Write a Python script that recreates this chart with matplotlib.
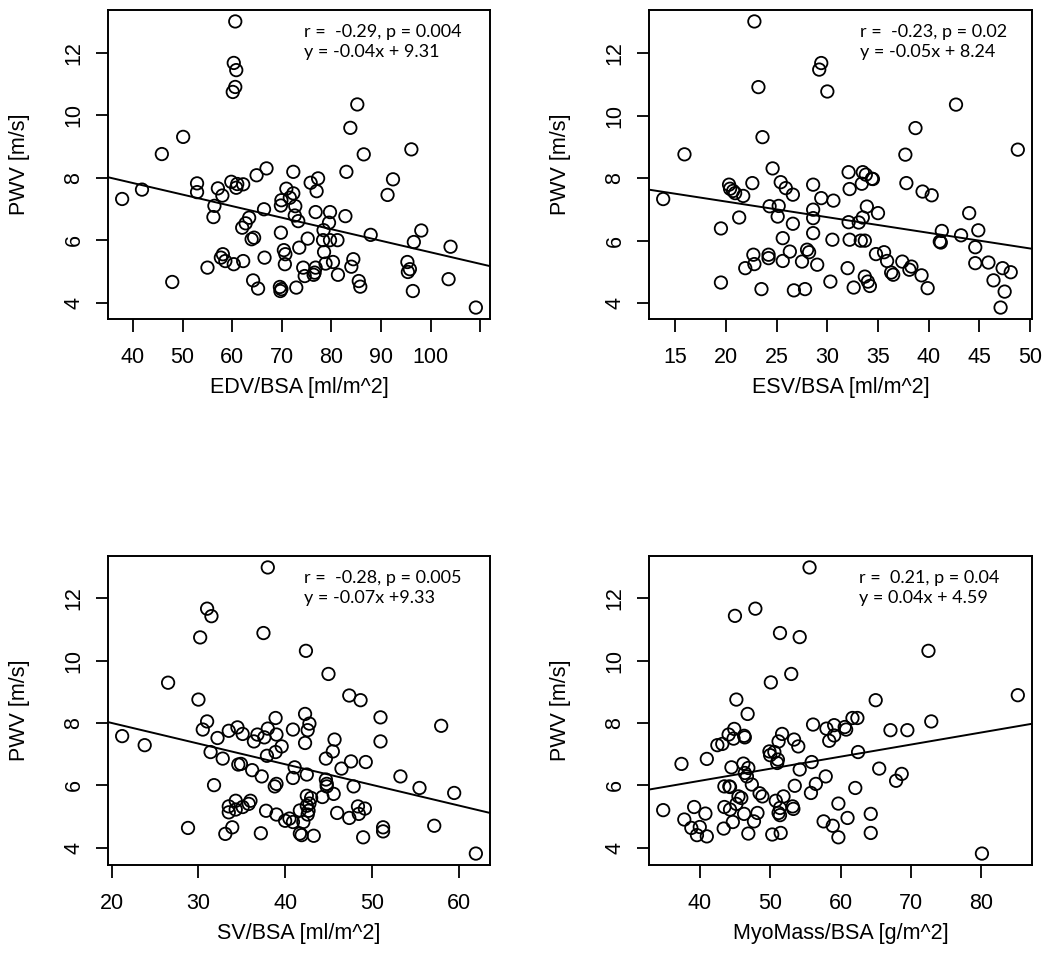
import matplotlib
matplotlib.use('Agg')
import matplotlib.pyplot as plt
import numpy as np

plt.rcParams['font.family'] = ['Liberation Sans', 'DejaVu Sans']

# PWV against four indexed LV measures
edv = [60.6, 60.3, 60.8, 60.6, 60.1, 50.1, 45.8, 37.8, 41.8, 52.9, 52.9, 57.1, 58.0, 56.4, 56.2, 59.8,
       58.1, 57.7, 58.6, 60.3, 47.9, 55.0, 61.0, 62.2, 60.8,
       66.9, 64.9, 72.3, 77.3, 75.8, 77.0, 83.0, 70.9, 72.3, 71.6, 69.9, 69.8, 72.7, 66.4, 72.6, 73.3,
       76.8, 79.7, 79.5, 82.8, 63.4, 62.7, 62.0, 78.4, 69.8, 64.4, 63.9, 75.2, 78.3, 79.7, 81.2, 73.5,
       70.4, 70.7, 78.5, 66.5, 62.2, 70.6, 74.3, 76.8, 80.3, 78.8, 84.4, 84.0, 76.6, 76.4, 74.6, 81.3,
       64.2, 65.2, 69.6, 69.9, 69.7, 72.9,
       85.2, 83.8, 86.5, 96.1, 92.4, 91.3, 87.9, 98.1, 96.6, 104.0, 95.3, 95.8, 95.4, 85.5, 85.8, 96.4,
       103.6, 109.1]
pwv_edv = [13.01, 11.68, 11.45, 10.91, 10.75, 9.31, 8.76, 7.32, 7.62, 7.82, 7.54, 7.66, 7.43, 7.10, 6.74,
           7.87, 5.55, 5.44, 5.33, 5.23, 4.66, 5.12, 7.80, 7.79, 7.68,
           8.30, 8.08, 8.19, 7.98, 7.84, 7.57, 8.19, 7.65, 7.50, 7.36, 7.28, 7.11, 7.09, 6.99, 6.79, 6.61,
           6.90, 6.90, 6.56, 6.77, 6.72, 6.54, 6.40, 6.32, 6.24, 6.08, 6.03, 6.05, 6.00, 6.00, 6.00, 5.76,
           5.68, 5.55, 5.62, 5.44, 5.33, 5.23, 5.12, 5.12, 5.30, 5.25, 5.39, 5.15, 4.96, 4.89, 4.85, 4.89,
           4.71, 4.45, 4.50, 4.43, 4.37, 4.48,
           10.35, 9.60, 8.75, 8.91, 7.95, 7.45, 6.17, 6.31, 5.94, 5.79, 5.30, 5.07, 4.98, 4.69, 4.51, 4.37,
           4.75, 3.84]

esv = [13.8, 15.9, 19.5, 19.5, 20.3, 20.4, 20.7, 20.9, 21.7, 21.3, 21.9,
       22.6, 22.7, 22.8, 23.5, 22.8, 23.2, 23.6, 24.6, 25.4, 25.9, 26.6, 24.3, 25.2, 25.1, 26.6, 25.6,
       24.2, 24.2, 25.6, 26.3, 27.5, 28.0, 28.2, 26.7, 27.8, 28.6, 28.6, 28.6, 28.6, 29.4, 30.6, 32.1,
       33.5, 33.8, 32.2, 33.4, 34.4, 34.5, 32.1, 33.1, 33.5, 33.9, 30.5, 32.2, 33.3, 33.7, 29.0, 32.0,
       33.7, 34.0, 34.2, 30.3, 32.6,
       29.4, 29.2, 30.0,
       42.7, 38.7, 37.7, 48.8, 37.8, 39.4, 40.3, 35.0, 44.0, 44.9, 43.2, 41.3, 41.1, 41.2, 44.6, 34.8,
       35.6, 35.9, 37.4, 36.3, 36.5, 38.1, 38.3, 39.3, 39.9, 44.6, 45.9, 47.3, 48.1, 46.4, 47.5, 47.1]
pwv_esv = [7.33, 8.76, 6.39, 4.66, 7.79, 7.66, 7.59, 7.52, 7.43, 6.74, 5.12,
           7.84, 5.55, 5.25, 4.45, 13.01, 10.91, 9.31, 8.31, 7.87, 7.68, 7.47, 7.10, 7.11, 6.77, 6.54, 6.08,
           5.55, 5.44, 5.35, 5.65, 5.33, 5.71, 5.63, 4.41, 4.45, 7.79, 6.99, 6.72, 6.24, 7.36, 7.28, 8.19,
           8.19, 8.11, 7.65, 7.82, 7.98, 7.97, 6.59, 6.58, 6.74, 7.09, 6.03, 6.03, 6.00, 6.00, 5.23, 5.12,
           4.85, 4.69, 4.55, 4.69, 4.50,
           11.68, 11.47, 10.77,
           10.35, 9.60, 8.75, 8.91, 7.84, 7.57, 7.45, 6.88, 6.88, 6.33, 6.17, 6.31, 5.97, 5.94, 5.79, 5.57,
           5.63, 5.35, 5.33, 4.98, 4.91, 5.07, 5.17, 4.89, 4.48, 5.28, 5.30, 5.12, 4.99, 4.73, 4.37, 3.86]

sv = [38.0, 31.0, 31.5, 30.2, 37.5, 26.5, 30.0, 21.2, 23.8, 31.0, 30.5, 32.2, 31.4, 32.8, 31.8, 28.8,
      33.5, 33.1, 33.9, 33.5, 34.3, 33.5, 34.3, 35.1, 35.8, 36.0,
      34.5, 35.1, 36.4, 36.8, 37.6, 38.0, 38.9, 39.0, 39.6, 38.9, 37.9, 34.6, 34.9, 36.2, 37.3, 38.8,
      39.0, 37.8, 39.0, 37.2, 40.0, 40.5, 40.9, 40.9, 41.1, 40.9,
      47.4, 42.3, 42.8, 42.6, 42.3, 45.7, 45.5, 44.7, 47.6, 46.5, 42.5, 44.7, 44.8, 44.8, 47.9, 42.5,
      43.0, 44.3, 45.6, 42.8, 42.5, 42.7, 41.7, 42.6, 42.1, 46.0, 47.4, 41.7, 41.9, 43.3,
      42.4, 45.0, 48.7, 51.0, 58.0, 51.0, 49.3, 53.3, 55.5, 59.5, 48.5, 48.4, 49.2, 51.3, 51.3, 49.0,
      57.2, 62.0]
pwv_sv = [12.98, 11.66, 11.42, 10.74, 10.88, 9.29, 8.75, 7.58, 7.29, 8.05, 7.79, 7.52, 7.07, 6.86, 6.01,
          4.64, 7.75, 4.45, 4.66, 5.33, 5.51, 5.14, 5.23, 5.31, 5.41, 5.51,
          7.86, 7.65, 7.41, 7.63, 7.54, 7.82, 8.16, 7.63, 7.25, 7.07, 6.95, 6.67, 6.69, 6.49, 6.29, 5.97,
          6.05, 5.19, 5.07, 4.47, 4.87, 4.94, 4.83, 7.79, 6.58, 6.24,
          8.88, 8.29, 7.98, 7.77, 7.36, 7.47, 7.09, 6.86, 6.77, 6.54, 6.35, 6.19, 6.05, 5.97, 5.97, 5.67,
          5.60, 5.63, 5.73, 5.42, 5.35, 5.19, 5.20, 5.07, 4.83, 5.12, 4.96, 4.46, 4.41, 4.39,
          10.31, 9.57, 8.73, 8.18, 7.91, 7.41, 6.75, 6.29, 5.92, 5.76, 5.09, 5.33, 5.26, 4.66, 4.53, 4.34,
          4.71, 3.82]

myo = [34.8, 37.4, 37.8, 39.2, 38.8, 40.0, 39.6, 41.0, 40.8, 41.0, 42.5, 43.2, 44.1, 44.9, 44.8, 46.3,
       46.4, 45.2, 46.8, 45.0, 43.5, 44.2, 44.3, 44.5, 46.2, 46.9, 46.4, 46.7, 43.5, 44.3, 45.2, 45.5,
       45.9, 46.3, 43.4, 44.7, 46.9,
       47.9, 47.4, 47.7, 48.2, 48.5, 48.9, 50.1, 49.9, 50.6, 50.0, 51.1, 51.0, 51.2, 51.7, 51.4, 54.2,
       53.0, 53.4, 54.0, 54.2, 53.5, 50.8, 51.9, 51.4, 51.2, 51.4, 53.2, 53.3, 50.3, 51.5, 55.6, 56.1,
       55.9, 55.8,
       58.0, 59.1, 60.6, 60.8, 61.7, 62.4, 59.1, 58.4, 62.5, 57.9, 56.5, 62.1, 59.7, 61.0, 57.6, 58.9,
       59.7, 64.3, 64.3, 72.5, 85.2, 65.0, 72.9, 67.1, 69.5, 65.5, 68.7, 67.9, 80.1]
pwv_myo = [5.21, 6.69, 4.91, 5.31, 4.64, 4.67, 4.41, 4.37, 5.10, 6.85, 7.29, 7.33, 7.63, 7.81, 7.50, 7.59,
           7.54, 8.75, 8.29, 11.43, 5.97, 5.97, 5.95, 6.58, 6.70, 6.56, 6.40, 6.29, 5.31, 5.23, 5.41, 5.65,
           5.60, 5.09, 4.62, 4.83, 4.46,
           11.66, 6.03, 4.85, 5.12, 5.75, 5.65, 9.30, 7.09, 7.07, 6.97, 6.83, 6.72, 7.41, 7.65, 10.88, 10.75,
           9.57, 7.47, 7.25, 6.51, 5.99, 5.51, 5.65, 5.28, 5.12, 5.05, 5.33, 5.25, 4.43, 4.48, 12.98, 7.95,
           6.75, 5.76,
           7.82, 7.93, 7.87, 7.79, 8.16, 8.16, 7.60, 7.43, 7.07, 6.29, 6.05, 5.92, 5.42, 4.96, 4.85, 4.71,
           4.34, 5.09, 4.48, 10.31, 8.89, 8.73, 8.05, 7.77, 7.77, 6.54, 6.37, 6.15, 3.82]

xlabels = ['EDV/BSA [ml/m^2]', 'ESV/BSA [ml/m^2]', 'SV/BSA [ml/m^2]', 'MyoMass/BSA [g/m^2]']
xticks = [[40, 50, 60, 70, 80, 90, 100, 110], [15, 20, 25, 30, 35, 40, 45, 50],
          [20, 30, 40, 50, 60], [40, 50, 60, 70, 80]]
xticklabels = [['40', '50', '60', '70', '80', '90', '100', ''],
               ['15', '20', '25', '30', '35', '40', '45', '50'],
               ['20', '30', '40', '50', '60'], ['40', '50', '60', '70', '80']]
yticks = [4, 6, 8, 10, 12]
# regression lines as drawn in the reference
fit_slope = [-0.037, -0.050, -0.066, 0.0387]
fit_icpt = [9.31, 8.25, 9.32, 4.60]
stats_text = ['r =  -0.29, p = 0.004\ny = -0.04x + 9.31',
              'r =  -0.23, p = 0.02\ny = -0.05x + 8.24',
              'r =  -0.28, p = 0.005\ny = -0.07x +9.33',
              'r =  0.21, p = 0.04\ny = 0.04x + 4.59']

xs = [edv, esv, sv, myo]
ys = [pwv_edv, pwv_esv, pwv_sv, pwv_myo]

W, H = 1050, 976
fig = plt.figure(figsize=(W / 100, H / 100), dpi=100)
# axes boxes in pixels: left, top, right, bottom
boxes = [(108, 10, 490, 319), (649, 10, 1032, 319),
         (108, 556, 490, 865), (649, 556, 1032, 865)]
text_x = [0.513, 0.551, 0.513, 0.549]

for i in range(4):
    l, t, r, b = boxes[i]
    ax = fig.add_axes([l / W, 1 - b / H, (r - l) / W, (b - t) / H])
    x = np.array(xs[i])
    y = np.array(ys[i])
    ax.scatter(x, y, s=80, facecolors='none', edgecolors='black', linewidths=1.3, zorder=3)
    # R style 4% padding
    xs_pad = 0.04 * (x.max() - x.min())
    ys_pad = 0.04 * (y.max() - y.min())
    ax.set_xlim(x.min() - xs_pad, x.max() + xs_pad)
    ax.set_ylim(y.min() - ys_pad, y.max() + ys_pad)
    ax.axline((0, fit_icpt[i]), slope=fit_slope[i], color='black', linewidth=1.4)

    ax.set_xticks(xticks[i])
    ax.set_xticklabels(xticklabels[i])
    ax.set_yticks(yticks)
    ax.set_yticklabels([str(v) for v in yticks], rotation=90, va='center')
    ax.tick_params(direction='out', length=9, width=1.3, labelsize=15.5)
    ax.tick_params(axis='x', pad=11)
    ax.tick_params(axis='y', pad=8)
    for sp in ax.spines.values():
        sp.set_linewidth(1.4)
    ax.set_xlabel(xlabels[i], fontsize=15.5, labelpad=7)
    ax.set_ylabel('PWV [m/s]', fontsize=15.5, labelpad=24)
    ax.text(text_x[i], 0.955, stats_text[i], transform=ax.transAxes, ha='left', va='top',
            fontsize=13, linespacing=1.35, family=['Lato', 'DejaVu Sans'])

fig.savefig('out.png', dpi=100)
